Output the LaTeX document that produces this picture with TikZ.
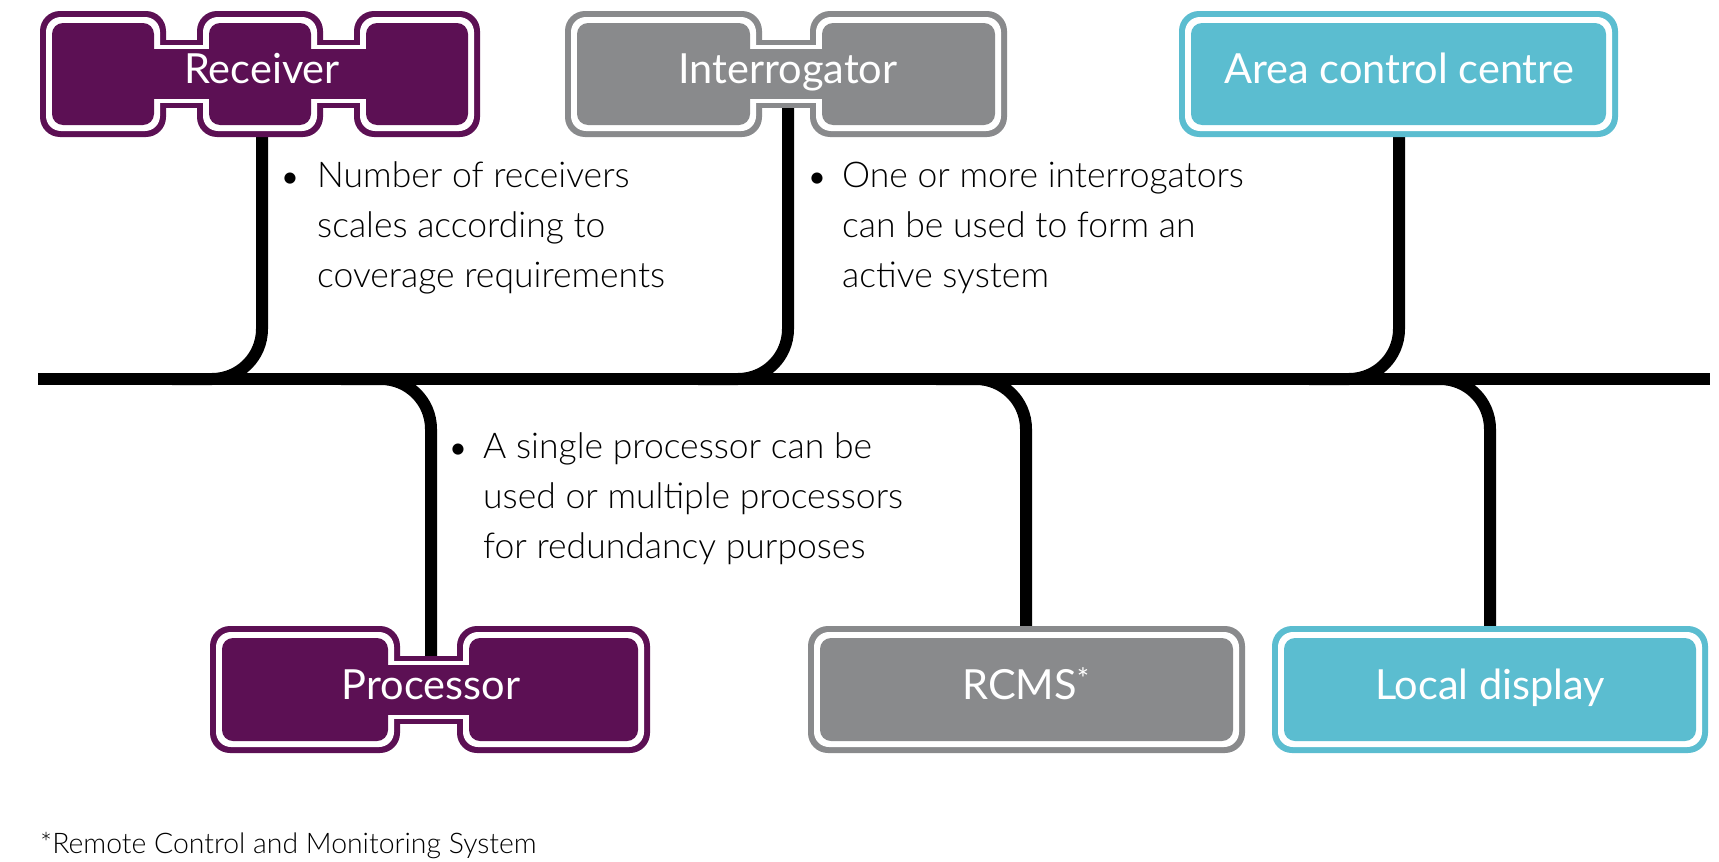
\documentclass[tikz,border=0pt]{standalone}
\usepackage{fontspec}
\setmainfont{Lato}
\newfontfamily\lightfont{Lato Light}
\usetikzlibrary{calc}
\pgfdeclarelayer{bg}
\pgfsetlayers{bg,main}
\definecolor{cPurple}{RGB}{92,16,84}
\definecolor{cGray}{RGB}{137,138,140}
\definecolor{cTeal}{RGB}{91,189,208}
% #1 colour, #2 top, #3 bottom, #4 list of x0/x1, #5 band left, #6 band right
\newcommand\mygroup[6]{%
  \pgfmathsetmacro\mycy{(#2+#3)/2}%
  \foreach \a/\b in {#4} {\fill[#1, rounded corners=20pt] (\a,#2) rectangle (\b,#3);}
  \fill[#1] (#5,\mycy-34) rectangle (#6,\mycy+34);
  \foreach \a/\b in {#4} {\fill[white, rounded corners=15pt] (\a+6,#2+6) rectangle (\b-6,#3-6);}
  \fill[white] (#5,\mycy-29) rectangle (#6,\mycy+29);
  \foreach \a/\b in {#4} {\fill[#1, rounded corners=11pt] (\a+12,#2+12) rectangle (\b-12,#3-12);}
  \fill[#1] (#5,\mycy-25) rectangle (#6,\mycy+25);
}
\begin{document}
\begin{tikzpicture}[x=1pt,y=-1pt,
  lbl/.style={text=white, font=\fontsize{41.5}{44}\selectfont, text height=28pt, text depth=9pt, inner sep=0pt},
  btext/.style={font=\lightfont\fontsize{35.5}{50}\selectfont, align=left, inner sep=0pt, anchor=north west},
  bul/.style={font=\fontsize{30}{50}\selectfont, inner sep=0pt, anchor=base},
  busline/.style={line width=12pt, black},
  conn/.style={line width=12pt, black, rounded corners=50pt}]
\useasboundingbox (0,0) rectangle (1719,862);

% groups
\mygroup{cPurple}{11}{137}{40/166,197/323,354/480}{103}{417}
\mygroup{cGray}{11}{137}{565/762,810/1007}{663}{908}
\mygroup{cTeal}{11}{137}{1179/1618}{1398}{1398}
\mygroup{cPurple}{626}{753}{210/400,457/650}{305}{553}
\mygroup{cGray}{626}{753}{808/1245}{1026}{1026}
\mygroup{cTeal}{626}{753}{1272/1708}{1490}{1490}

% labels
\node[lbl, minimum width=440pt, minimum height=126pt] (recv) at (262,74) {Receiver};
\node[lbl, minimum width=442pt, minimum height=126pt] (intr) at (788,74) {Interrogator};
\node[lbl, minimum width=439pt, minimum height=126pt] (acc) at (1399,74) {Area control centre};
\node[lbl, minimum width=440pt, minimum height=127pt] (proc) at (431,689.5) {Processor};
\node[lbl, minimum width=437pt, minimum height=127pt] (rcms) at (1026,689.5) {RCMS\textsuperscript{*}};
\node[lbl, minimum width=436pt, minimum height=127pt] (locd) at (1490,689.5) {Local display};

% bullet texts
\node[bul] (b1) at (290,187) {•};
\node[btext] (t1) at (317,161) {\rule{0pt}{26pt}Number of receivers\\scales according to\\coverage requirements};
\node[bul] (b2) at (817,187) {•};
\node[btext] (t2) at (842,161) {\rule{0pt}{26pt}One or more interrogators\\can be used to form an\\active system};
\node[bul] (b3) at (458,458) {•};
\node[btext] (t3) at (483,432) {\rule{0pt}{26pt}A single processor can be\\used or multiple processors\\for redundancy purposes};

% footnote
\node[font=\lightfont\fontsize{28.4}{30}\selectfont, anchor=base west, inner sep=0pt] (fn) at (40,853) {*Remote Control and Monitoring System};

% bus and connectors
\coordinate (busL) at (38,379);
\coordinate (busR) at (1710,379);
\begin{pgfonlayer}{bg}
\fill[white] (0,0) rectangle (1719,862);
\draw[busline] (busL) -- (busR);
\draw[conn] (recv.center) |- ([xshift=-90pt]recv.center |- busL);
\draw[conn] (intr.center) |- ([xshift=-90pt]intr.center |- busL);
\draw[conn] (acc.center) |- ([xshift=-90pt]acc.center |- busL);
\draw[conn] (proc.center) |- ([xshift=-90pt]proc.center |- busL);
\draw[conn] (rcms.center) |- ([xshift=-90pt]rcms.center |- busL);
\draw[conn] (locd.center) |- ([xshift=-90pt]locd.center |- busL);
\end{pgfonlayer}
\end{tikzpicture}
\end{document}
